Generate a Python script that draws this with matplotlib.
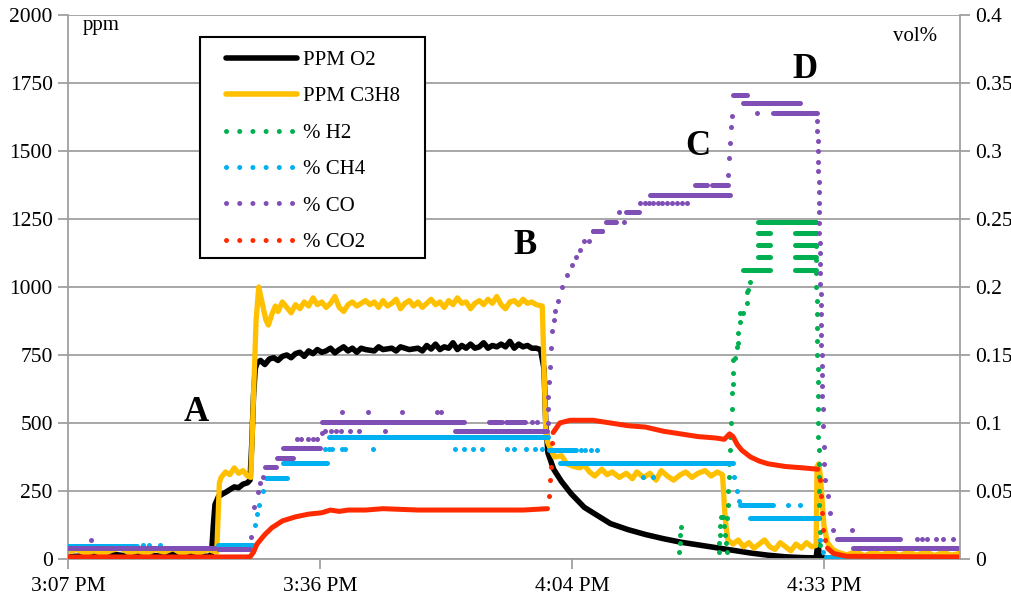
import numpy as np
import matplotlib.pyplot as plt
from matplotlib.lines import Line2D
from matplotlib.patches import Rectangle

plt.rcParams['font.family'] = 'Liberation Serif'

# time in minutes after 3:07:12 PM
tick_pos = [0, 28.8, 57.6, 86.4]
tick_lab = ['3:07 PM', '3:36 PM', '4:04 PM', '4:33 PM']

# ppm O2 (left axis)
o2_pts = [(0, 8), (2, 12), (4, 10), (5, 18), (7, 10), (9, 14), (11, 10), (12, 20), (14, 12),
          (16, 10), (16.4, 15), (16.6, 120), (16.8, 200), (17.2, 230), (17.7, 240), (18, 245),
          (18.5, 255), (19, 265), (19.5, 262), (20, 275), (20.5, 280), (20.8, 290), (21.0, 420),
          (21.2, 600), (21.4, 700), (21.6, 720), (22, 730), (22.5, 715), (23, 735), (23.5, 740),
          (24, 730), (24.5, 745), (25, 750), (25.5, 740), (26, 755), (26.5, 760), (27, 745),
          (27.5, 765), (28, 755), (28.5, 770), (29, 760), (29.5, 765), (30, 775), (30.5, 758),
          (31, 770), (31.5, 780), (32, 765), (32.5, 775), (33, 760), (33.5, 775), (34, 770),
          (35, 765), (35.5, 780), (36, 770), (37, 775), (37.5, 765), (38, 780), (39, 770),
          (40, 775), (40.5, 765), (41, 785), (41.5, 772), (42, 790), (42.5, 770), (43, 780),
          (43.5, 775), (44, 795), (44.5, 770), (45, 785), (45.5, 775), (46, 790), (46.5, 775),
          (47, 780), (47.5, 795), (48, 775), (48.5, 785), (49, 780), (49.5, 790), (50, 780),
          (50.5, 800), (51, 775), (51.5, 790), (52, 780), (52.5, 785), (53, 775), (53.5, 775),
          (54.0, 770), (54.4, 700), (54.6, 500), (54.85, 390), (55.5, 330), (56.4, 285),
          (57.5, 240), (59, 190), (60, 170), (62, 130), (64, 108), (66, 90), (68, 75), (70, 62),
          (72, 52), (74, 42), (76, 32), (78, 22), (80, 14), (82, 8), (84, 5), (85.5, 4),
          (85.7, 60), (85.9, 5), (87, 2), (102, 2)]

# ppm C3H8 (left axis)
c3h8_pts = [(0, 25), (1, 35), (2, 20), (3, 30), (4, 18), (5, 32), (6, 40), (7, 22), (8, 30),
            (9, 20), (10, 35), (11, 25), (12, 38), (13, 20), (14, 30), (15, 22), (16, 35),
            (17, 25), (17.3, 280), (17.5, 300), (18, 320), (18.5, 310), (19, 335), (19.5, 315),
            (20, 325), (20.5, 305), (20.9, 300), (21.2, 600), (21.5, 880), (21.8, 1000),
            (22.2, 940), (22.6, 880), (22.9, 860), (23.3, 900), (23.7, 930), (24, 910),
            (24.5, 945), (25, 925), (25.5, 905), (26, 935), (26.5, 920), (27, 945), (27.5, 930),
            (28, 960), (28.5, 935), (29, 945), (29.5, 925), (30, 940), (30.5, 965), (31, 925),
            (31.5, 910), (32, 935), (32.5, 945), (33, 930), (34, 950), (34.5, 935), (35, 945),
            (35.5, 925), (36, 950), (36.5, 930), (37, 940), (37.5, 955), (38, 920), (38.5, 940),
            (39, 950), (39.5, 930), (40, 945), (40.5, 925), (41, 940), (41.5, 955), (42, 935),
            (42.5, 945), (43, 925), (43.5, 950), (44, 935), (44.5, 960), (45, 940), (45.5, 945),
            (46, 920), (46.5, 940), (47, 950), (47.5, 935), (48, 955), (48.5, 940), (49, 965),
            (49.5, 935), (50, 920), (50.5, 945), (51, 950), (51.5, 935), (52, 955), (52.5, 940),
            (53, 945), (53.5, 935), (54.2, 930), (54.4, 700), (54.6, 480), (54.8, 430),
            (55.2, 400), (55.6, 375), (56.4, 380), (57, 350), (57.8, 340), (58.5, 335),
            (59, 345), (59.6, 320), (60.2, 305), (61, 330), (61.6, 310), (62.2, 320), (63, 300),
            (63.8, 315), (64.5, 295), (65, 320), (65.8, 300), (66.5, 315), (67.2, 290),
            (67.8, 325), (68.5, 305), (69.2, 290), (70, 310), (70.6, 320), (71.3, 300), (72, 315),
            (72.8, 325), (73.5, 305), (74.2, 320), (74.8, 310), (75.1, 150), (75.4, 70),
            (76, 55), (76.6, 70), (77.2, 45), (77.8, 60), (78.4, 40), (79, 55), (79.6, 70),
            (80.2, 45), (80.8, 35), (81.4, 60), (82, 45), (82.6, 30), (83.2, 55), (83.8, 40),
            (84.4, 60), (85, 45), (85.5, 50), (85.6, 340), (85.8, 350), (86.0, 300),
            (86.4, 120), (86.8, 60), (87.4, 35), (88, 25), (89, 15), (90, 28), (91, 12), (92, 25),
            (93, 15), (94, 28), (95, 12), (96, 26), (97, 14), (98, 28), (99, 12), (100, 25),
            (101, 14), (102, 22)]

# vol% series (right axis): flat runs (start, end, level) and single dots (t, value)
h2_runs = [(77.1, 80.2, 0.2125), (78.9, 80.2, 0.222), (78.9, 80.2, 0.231),
           (78.9, 80.2, 0.24), (78.9, 85.5, 0.248), (83.1, 85.5, 0.24), (83.1, 85.5, 0.231),
           (83.1, 85.5, 0.222), (83.1, 85.5, 0.2125)]
h2_dots = [(69.85, 0.005), (69.9, 0.012), (69.95, 0.018), (70.0, 0.0235), (74.35, 0.005),
           (74.45, 0.012), (74.5, 0.018), (74.55, 0.024), (74.6, 0.031), (74.75, 0.031),
           (74.9, 0.031), (75.0, 0.024), (75.1, 0.018), (75.2, 0.012), (75.3, 0.005),
           (75.35, 0.03), (75.4, 0.04), (75.45, 0.05), (75.5, 0.06), (75.55, 0.07),
           (75.66, 0.08), (75.7, 0.09), (75.77, 0.1), (75.85, 0.11), (75.89, 0.122),
           (75.95, 0.129), (76.0, 0.137), (76.05, 0.146), (76.23, 0.148), (76.46, 0.156),
           (76.57, 0.159), (76.6, 0.166), (76.8, 0.174), (76.85, 0.181), (77.14, 0.181),
           (77.6, 0.188), (77.65, 0.196), (77.75, 0.198), (77.94, 0.204),
           (85.45, 0.24), (85.48, 0.23), (85.5, 0.22), (85.52, 0.21), (85.54, 0.2),
           (85.56, 0.19), (85.58, 0.18), (85.6, 0.17), (85.62, 0.16), (85.64, 0.15),
           (85.66, 0.14), (85.68, 0.13), (85.7, 0.12), (85.72, 0.11), (85.74, 0.1),
           (85.76, 0.09), (85.78, 0.08), (85.8, 0.07), (85.82, 0.06), (85.84, 0.05),
           (85.86, 0.04), (85.88, 0.03), (85.9, 0.02), (85.92, 0.01)]

ch4_runs = [(0, 7.9, 0.0097), (17.1, 21.1, 0.0103), (22.6, 25.0, 0.0595), (24.6, 29.6, 0.0706),
            (29.8, 54.9, 0.0897), (55.0, 58.0, 0.080), (56.2, 76.0, 0.0706),
            (76.8, 80.6, 0.0397), (77.9, 85.7, 0.030), (86.6, 90.0, 0.0015)]
ch4_dots = [(8.6, 0.0103), (9.3, 0.0103), (10.5, 0.0103), (21.4, 0.025), (21.6, 0.033),
            (21.8, 0.04), (22.3, 0.05), (29.4, 0.081), (29.8, 0.081), (30.2, 0.081),
            (31.3, 0.081), (31.7, 0.081), (34.9, 0.081), (44.2, 0.081), (45.2, 0.081),
            (46.3, 0.081), (47.3, 0.081), (50.2, 0.081), (51.0, 0.081), (52.3, 0.081),
            (53.4, 0.081), (54.2, 0.081), (58.6, 0.080), (59.1, 0.080), (59.8, 0.080),
            (60.5, 0.080), (65.7, 0.06), (66.9, 0.06), (76.1, 0.06), (76.4, 0.05),
            (76.7, 0.043), (82.3, 0.0397), (83.7, 0.0397), (85.9, 0.014), (86.3, 0.005)]

co_runs = [(0, 16.8, 0.008), (17.1, 20.8, 0.007), (22.5, 23.8, 0.068), (23.9, 25.7, 0.074),
           (24.6, 28.8, 0.0816), (29.0, 45.2, 0.1007), (44.2, 54.7, 0.094),
           (48.1, 49.6, 0.1007), (50.0, 52.2, 0.1007), (60.0, 61.0, 0.241),
           (61.6, 62.6, 0.248), (63.8, 65.2, 0.255), (66.5, 75.6, 0.268),
           (71.7, 73.0, 0.275), (73.6, 75.4, 0.275), (76.0, 77.6, 0.341), (77.1, 83.7, 0.335),
           (80.6, 85.6, 0.328), (87.9, 95.1, 0.0147), (89.7, 101.9, 0.008)]
co_dots = [(2.6, 0.014), (20.9, 0.016), (21.3, 0.038), (21.7, 0.049), (21.95, 0.056),
           (22.3, 0.06), (26.2, 0.088), (26.6, 0.088), (27.4, 0.088), (28.0, 0.088),
           (28.5, 0.088), (29.0, 0.093), (29.4, 0.094), (30.0, 0.094), (30.6, 0.094),
           (31.2, 0.094), (32.2, 0.094), (33.3, 0.094), (36.2, 0.094), (31.3, 0.108),
           (34.3, 0.108), (38.2, 0.108), (42.2, 0.108), (42.6, 0.108), (53.0, 0.1007),
           (53.6, 0.1007), (54.8, 0.1), (54.85, 0.11), (54.9, 0.119), (55.0, 0.13),
           (55.1, 0.141), (55.2, 0.155), (55.3, 0.168), (55.5, 0.176), (55.66, 0.182),
           (56.0, 0.19), (56.45, 0.2), (57.0, 0.209), (57.6, 0.216), (58.1, 0.222),
           (58.5, 0.227), (59.0, 0.234), (59.5, 0.234), (60.0, 0.241), (60.5, 0.241),
           (61.0, 0.241), (61.5, 0.248), (62.0, 0.248), (62.5, 0.248), (63.0, 0.255),
           (63.5, 0.248), (64.0, 0.255), (64.5, 0.255), (65.0, 0.255), (65.4, 0.262),
           (65.9, 0.262), (66.4, 0.262), (66.9, 0.262), (67.4, 0.262), (67.9, 0.262),
           (68.4, 0.262), (69.0, 0.262), (69.6, 0.262), (70.2, 0.262), (70.7, 0.262),
           (75.45, 0.282), (75.55, 0.295), (75.66, 0.306), (75.77, 0.318), (75.88, 0.326),
           (78.7, 0.328), (85.62, 0.322), (85.65, 0.315), (85.68, 0.307), (85.7, 0.30),
           (85.72, 0.292), (85.75, 0.285), (85.77, 0.277), (85.8, 0.27), (85.82, 0.262),
           (85.84, 0.255), (85.86, 0.247), (85.88, 0.24), (85.9, 0.232), (85.92, 0.225),
           (85.94, 0.217), (85.96, 0.21), (85.98, 0.202), (86.0, 0.195), (86.02, 0.187),
           (86.04, 0.18), (86.06, 0.172), (86.08, 0.165), (86.1, 0.157), (86.12, 0.15),
           (86.14, 0.142), (86.16, 0.135), (86.18, 0.127), (86.2, 0.12), (86.25, 0.11),
           (86.3, 0.098), (86.35, 0.082), (86.45, 0.07), (86.5, 0.058), (86.8, 0.046),
           (87.1, 0.034), (87.4, 0.021), (89.6, 0.021), (97.0, 0.0147), (97.6, 0.0147),
           (98.2, 0.0147), (99.2, 0.0147), (100.0, 0.0147), (101.1, 0.0147)]

# CO2 is dense enough to read as a line; nan marks the fast jumps drawn as dots
co2_pts = [(0, 0.0015), (20.8, 0.0015), (21.2, 0.005), (21.6, 0.011), (22.5, 0.018),
           (23.3, 0.023), (24.5, 0.028), (26, 0.031), (27.5, 0.033), (29, 0.034), (30, 0.036),
           (31, 0.035), (32, 0.036), (34, 0.036), (36, 0.037), (40, 0.036), (44, 0.036),
           (48, 0.036), (52, 0.036), (54.8, 0.037), (54.9, np.nan),
           (55.45, 0.093), (56.2, 0.1), (57.4, 0.102), (60, 0.102), (62, 0.1), (64, 0.098),
           (66, 0.097), (68, 0.094), (70, 0.092), (72, 0.09), (74, 0.089), (75, 0.088),
           (75.6, 0.092), (76.0, 0.09), (76.5, 0.084), (77, 0.08), (78, 0.075), (79, 0.072),
           (80, 0.07), (82, 0.068), (84, 0.067), (85.7, 0.066), (85.8, np.nan),
           (86.8, 0.008), (87.5, 0.004), (89, 0.002), (102, 0.0015)]
co2_dots = [(54.95, 0.046), (55.1, 0.058), (55.2, 0.068), (55.3, 0.085), (85.9, 0.058),
            (86.1, 0.046), (86.2, 0.034), (86.3, 0.021), (86.5, 0.014)]

BLACK, YELLOW = '#000000', '#FFC000'
GREEN, CYAN, PURPLE, RED = '#00B050', '#00B0F0', '#7F4FB6', '#FF2A00'
GRAY = '#A0A0A0'
DOT = 3.6


def draw_dotted(ax, runs, dots, color):
    s, e, lv = zip(*runs)
    ax.hlines(lv, s, e, colors=color, lw=DOT, capstyle='round')
    dt, dv = zip(*dots)
    ax.plot(dt, dv, 'o', color=color, ms=DOT, mew=0)


fig = plt.figure(figsize=(10.11, 5.98), dpi=100)
ax = fig.add_axes([68 / 1011, 39 / 598, 892 / 1011, 544 / 598])
ax.set_xlim(0, 101.94)
ax.set_ylim(0, 2000)
ax.set_yticks(range(0, 2001, 250))
ax.set_xticks(tick_pos)
ax.set_xticklabels(tick_lab)
ax.grid(axis='y', color=GRAY, lw=1.3)
ax.set_axisbelow(True)
ax.spines['top'].set_visible(False)
ax.spines['right'].set_visible(False)
for sp in ['left', 'bottom']:
    ax.spines[sp].set_color(GRAY)
    ax.spines[sp].set_linewidth(1.3)
ax.tick_params(axis='both', colors='black', labelsize=15.5, length=7, width=1.3)
ax.tick_params(axis='y', color=GRAY, pad=4)
ax.tick_params(axis='x', color=GRAY, pad=6)

t, v = zip(*o2_pts)
ax.plot(t, v, color=BLACK, lw=4, solid_joinstyle='round')
t, v = zip(*c3h8_pts)
ax.plot(t, v, color=YELLOW, lw=3.8, solid_joinstyle='round')

ax2 = ax.twinx()
ax2.set_ylim(0, 0.4)
ax2.set_yticks(np.arange(0, 0.41, 0.05))
ax2.set_yticklabels(['0', '0.05', '0.1', '0.15', '0.2', '0.25', '0.3', '0.35', '0.4'])
for sp in ['left', 'bottom', 'top']:
    ax2.spines[sp].set_visible(False)
ax2.spines['right'].set_color(GRAY)
ax2.spines['right'].set_linewidth(1.3)
ax2.tick_params(axis='y', colors='black', color=GRAY, labelsize=15.5, length=7, width=1.3,
                pad=4)

draw_dotted(ax2, h2_runs, h2_dots, GREEN)
draw_dotted(ax2, ch4_runs, ch4_dots, CYAN)
draw_dotted(ax2, co_runs, co_dots, PURPLE)
t, v = zip(*co2_pts)
ax2.plot(t, v, color=RED, lw=DOT, solid_capstyle='round')
t, v = zip(*co2_dots)
ax2.plot(t, v, 'o', color=RED, ms=DOT, mew=0)

ax.text(0.017, 0.98, 'ppm', transform=ax.transAxes, fontsize=15, va='center', ha='left')
ax.text(0.974, 0.961, 'vol%', transform=ax.transAxes, fontsize=15, va='center', ha='right')

for lab, x, y in [('A', 14.6, 540), ('B', 52.2, 1154), ('C', 72.0, 1518), ('D', 84.2, 1798)]:
    ax.text(x, y, lab, fontsize=25, fontweight='bold', ha='center', va='center')

# legend box drawn separately so the entries can sit with Excel-like padding
ax2.add_patch(Rectangle((0.148, 0.553), 0.252, 0.4066, transform=ax2.transAxes,
                        facecolor='white', edgecolor='black', lw=1.5, zorder=4))
dotted = (0, (0.01, 2.63))
handles = [
    Line2D([], [], color=BLACK, lw=4, solid_capstyle='round'),
    Line2D([], [], color=YELLOW, lw=4, solid_capstyle='round'),
    Line2D([], [], color=GREEN, lw=DOT, ls=dotted, dash_capstyle='round'),
    Line2D([], [], color=CYAN, lw=DOT, ls=dotted, dash_capstyle='round'),
    Line2D([], [], color=PURPLE, lw=DOT, ls=dotted, dash_capstyle='round'),
    Line2D([], [], color=RED, lw=DOT, ls=dotted, dash_capstyle='round'),
]
labels = ['PPM O2', 'PPM C3H8', '% H2', '% CH4', '% CO', '% CO2']
leg = ax2.legend(handles, labels, loc='upper left', bbox_to_anchor=(0.177, 0.935),
                 borderaxespad=0, borderpad=0, fontsize=15, frameon=False,
                 handlelength=3.4, handletextpad=0.3, labelspacing=0.81)
leg.set_zorder(5)

fig.savefig('out.png', dpi=100)
